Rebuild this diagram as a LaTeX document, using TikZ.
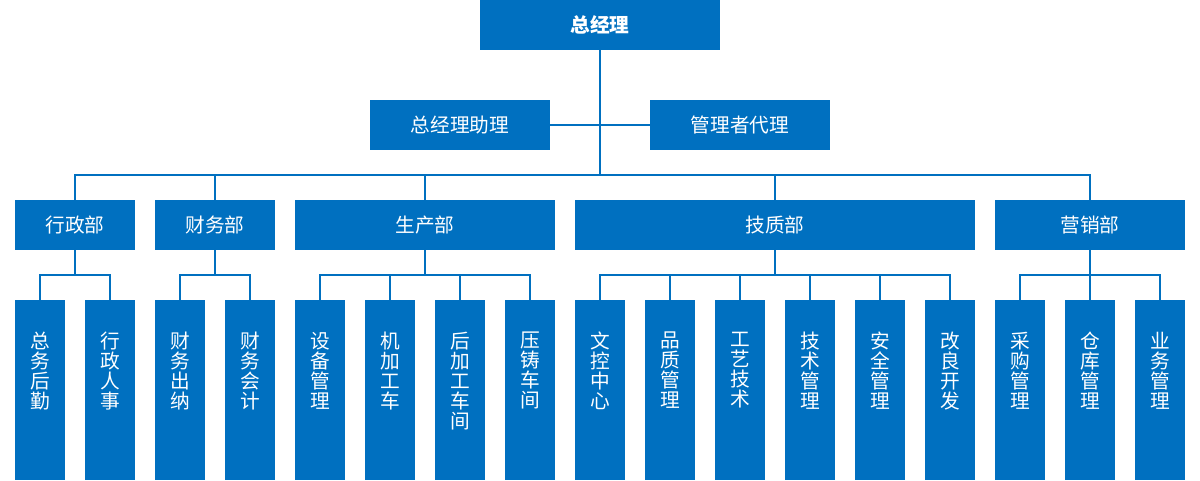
\documentclass[tikz,border=0pt]{standalone}
\usepackage{fontspec}
\setmainfont{Noto Sans CJK SC}
\usetikzlibrary{positioning}
\definecolor{boxblue}{RGB}{0,112,192}
\newcommand{\vstack}[1]{\parbox[t][2.9cm][t]{1.25cm}{\centering #1}}

\begin{document}
\begin{tikzpicture}[
  node distance=0.5cm,
  head/.style={fill=boxblue, text=white, inner sep=0pt, outer sep=0pt, minimum height=1.25cm, align=center, font=\fontsize{14pt}{16pt}\selectfont},
  sub/.style={fill=boxblue, text=white, inner sep=0pt, outer sep=0pt, minimum width=1.25cm, minimum height=4.5cm, font=\fontsize{14pt}{14.2pt}\selectfont},
  link/.style={draw=boxblue, line width=0.75pt}
]
\useasboundingbox (0,0) rectangle (30,-12);

% top levels
\node[head, minimum width=6cm, font=\bfseries\fontsize{14pt}{16pt}\selectfont] (gm) at (15,-0.625) {总经理};
\node[head, minimum width=4.5cm, below=1.25cm of gm, xshift=-3.5cm] (asst) {总经理助理};
\node[head, minimum width=4.5cm, below=1.25cm of gm, xshift=3.5cm] (rep) {管理者代理};

% departments
\node[head, minimum width=3cm] (admin) at (1.875,-5.625) {行政部};
\node[head, minimum width=3cm, right=of admin] (fin) {财务部};
\node[head, minimum width=6.5cm, right=of fin] (prod) {生产部};
\node[head, minimum width=10cm, right=of prod] (tech) {技质部};
\node[head, minimum width=4.75cm, right=of tech] (sales) {营销部};

% sections
\node[sub, below right=1.25cm and 0cm of admin.south west] (adminA) {\vstack{总\\务\\后\\勤}};
\node[sub, right=of adminA] (adminB) {\vstack{行\\政\\人\\事}};

\node[sub, below right=1.25cm and 0cm of fin.south west] (finA) {\vstack{财\\务\\出\\纳}};
\node[sub, right=of finA] (finB) {\vstack{财\\务\\会\\计}};

\node[sub, below right=1.25cm and 0cm of prod.south west] (prodA) {\vstack{设\\备\\管\\理}};
\node[sub, right=of prodA] (prodB) {\vstack{机\\加\\工\\车}};
\node[sub, right=of prodB] (prodC) {\vstack{后\\加\\工\\车\\间}};
\node[sub, right=of prodC] (prodD) {\vstack{压\\铸\\车\\间}};

\node[sub, below right=1.25cm and 0cm of tech.south west] (techA) {\vstack{文\\控\\中\\心}};
\node[sub, right=of techA] (techB) {\vstack{品\\质\\管\\理}};
\node[sub, right=of techB] (techC) {\vstack{工\\艺\\技\\术}};
\node[sub, right=of techC] (techD) {\vstack{技\\术\\管\\理}};
\node[sub, right=of techD] (techE) {\vstack{安\\全\\管\\理}};
\node[sub, right=of techE] (techF) {\vstack{改\\良\\开\\发}};

\node[sub, below right=1.25cm and 0cm of sales.south west] (salesA) {\vstack{采\\购\\管\\理}};
\node[sub, right=of salesA] (salesB) {\vstack{仓\\库\\管\\理}};
\node[sub, right=of salesB] (salesC) {\vstack{业\\务\\管\\理}};

% connectors
\draw[link] (asst.east) -- (rep.west);
\foreach \d in {admin,fin,prod,tech,sales}
  \draw[link] (gm.south) -- ++(0,-3.125) -| (\d.north);
\foreach \d/\s in {admin/adminA,admin/adminB,fin/finA,fin/finB,
    prod/prodA,prod/prodB,prod/prodC,prod/prodD,
    tech/techA,tech/techB,tech/techC,tech/techD,tech/techE,tech/techF,
    sales/salesA,sales/salesB,sales/salesC}
  \draw[link] (\d.south) -- ++(0,-0.625) -| (\s.north);
\end{tikzpicture}
\end{document}
